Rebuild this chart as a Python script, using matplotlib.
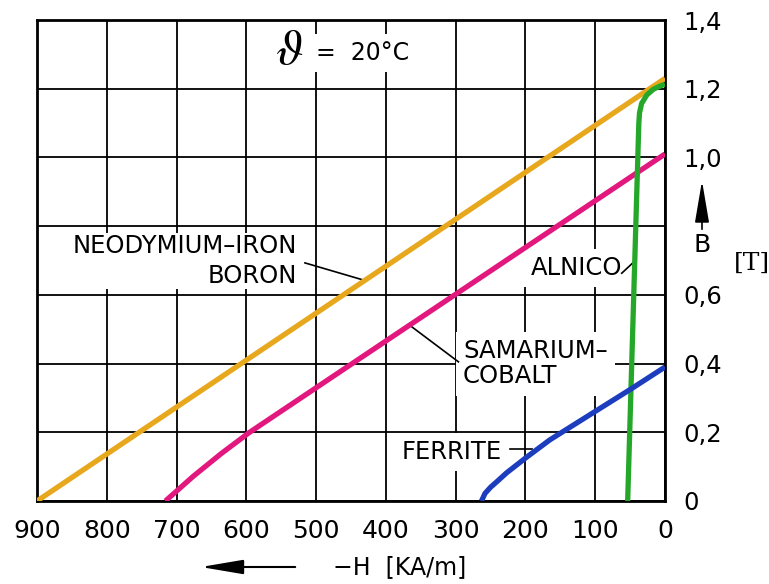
import matplotlib
matplotlib.use("Agg")
import matplotlib.pyplot as plt

# Demagnetisation curves (second quadrant), -H in kA/m, B in T
ndfeb_H = [900, 0]
ndfeb_B = [0, 1.23]

smco_H = [716, 676, 636, 596, 0]
smco_B = [0, 0.072, 0.138, 0.199, 1.01]

alnico_H = [53.5, 37.5, 36.5, 33.5, 26, 17, 7, 0]
alnico_B = [0, 1.10, 1.13, 1.157, 1.182, 1.198, 1.208, 1.213]

ferrite_H = [263, 258, 250, 240, 227, 198, 165, 103, 48, 0]
ferrite_B = [0, 0.022, 0.04, 0.058, 0.082, 0.128, 0.178, 0.257, 0.327, 0.39]

h_ticks = [900, 800, 700, 600, 500, 400, 300, 200, 100, 0]
h_labels = [str(v) for v in h_ticks]
b_ticks = [0, 0.2, 0.4, 0.6, 0.8, 1.0, 1.2, 1.4]
b_labels = ['0', '0,2', '0,4', '0,6', '', '1,0', '1,2', '1,4']

W, Hpx = 769, 584
fig = plt.figure(figsize=(W / 100, Hpx / 100), dpi=100)
ax = fig.add_axes([37 / W, 1 - 501 / Hpx, (665 - 37) / W, (501 - 20) / Hpx])

ax.set_xlim(900, 0)
ax.set_ylim(0, 1.4)
ax.set_xticks(h_ticks, labels=h_labels)
ax.set_yticks(b_ticks, labels=b_labels)
ax.yaxis.tick_right()
ax.tick_params(axis='x', length=0, pad=13, labelsize=18)
ax.tick_params(axis='y', length=0, pad=13, labelsize=17.5)
for lab in ax.get_yticklabels():
    lab.set_horizontalalignment('left')
ax.grid(True, color='black', lw=1.3)
ax.set_axisbelow(True)
for sp in ax.spines.values():
    sp.set_linewidth(2)

lw = 3.8
ax.plot(ndfeb_H, ndfeb_B, color='#E8A81E', lw=lw, solid_capstyle='butt', zorder=4)
ax.plot(smco_H, smco_B, color='#E2187E', lw=lw, solid_capstyle='butt', zorder=4)
ax.plot(alnico_H, alnico_B, color='#25A829', lw=lw, solid_capstyle='butt', zorder=4)
ax.plot(ferrite_H, ferrite_B, color='#1C3DBE', lw=lw, solid_capstyle='butt', zorder=4)

box = dict(boxstyle='square,pad=0.3', facecolor='white', edgecolor='none')
tight = dict(boxstyle='square,pad=0.05', facecolor='white', edgecolor='none')
fs = 17.5

ax.text(527, 0.698, 'NEODYMIUM–IRON\nBORON', ha='right', va='center',
        multialignment='right', fontsize=fs, linespacing=1.3, bbox=tight, zorder=2)
ax.text(193, 0.678, 'ALNICO', ha='left', va='center', fontsize=fs, bbox=box, zorder=2)
ax.text(289.5, 0.399, 'SAMARIUM–\nCOBALT', ha='left', va='center',
        fontsize=fs, linespacing=1.05, bbox=box, zorder=2)
ax.text(377, 0.143, 'FERRITE', ha='left', va='center', fontsize=fs, bbox=box, zorder=2)

# temperature note
ax.text(539, 1.313, r'$\vartheta$', ha='center', va='center', fontsize=36,
        math_fontfamily='stix', zorder=2)
ax.text(500, 1.305, '=  20°C', ha='left', va='center', fontsize=17, bbox=box, zorder=2)

# leader lines
leader = dict(color='black', lw=1.2, zorder=3)
ax.plot([516, 432], [0.693, 0.643], **leader)
ax.plot([62, 44], [0.663, 0.697], **leader)
ax.plot([365.5, 296], [0.511, 0.405], **leader)
ax.plot([222, 191], [0.15, 0.15], **leader)

# axis captions with arrows
def fx(px):
    return px / W

def fy(py):
    return 1 - py / Hpx

arrow = dict(arrowstyle='-|>,head_length=1.3,head_width=0.22',
             color='black', mutation_scale=20)
ax.annotate('', xy=(fx(198), fy(567)), xytext=(fx(298), fy(567)),
            xycoords='figure fraction', textcoords='figure fraction',
            arrowprops=dict(lw=1.5, **arrow))
fig.text(fx(333), fy(567), '−H  [KA/m]', ha='left', va='center', fontsize=17)

ax.annotate('', xy=(fx(702), fy(178)), xytext=(fx(702), fy(232)),
            xycoords='figure fraction', textcoords='figure fraction',
            arrowprops=dict(lw=1.2, **arrow))
fig.text(fx(702), fy(245), 'B', ha='center', va='center', fontsize=18)
fig.text(fx(752), fy(263), '[T]', ha='center', va='center', fontsize=18,
         family='DejaVu Serif')

fig.savefig('out.png', dpi=100, facecolor='white')
